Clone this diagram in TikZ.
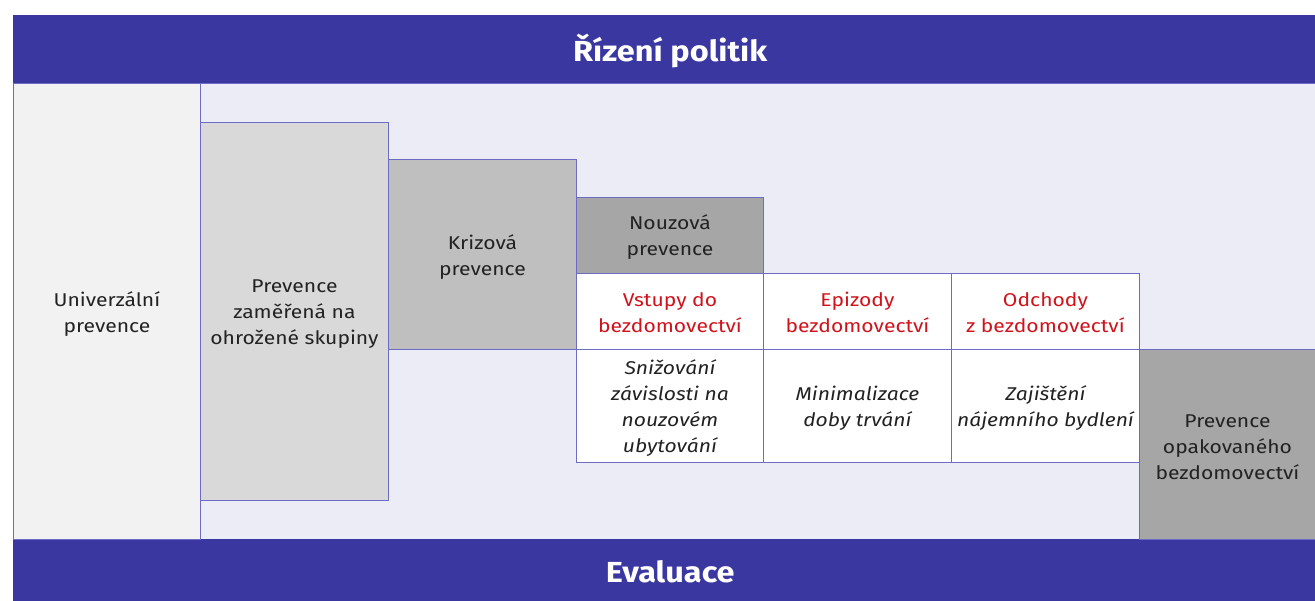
\documentclass[tikz,border=0pt]{standalone}
\usepackage{fontspec}
\setmainfont{Fira Sans}[FakeStretch=1.14]
\newfontfamily\headfont{Fira Sans}[FakeStretch=1.12]
\definecolor{band}{HTML}{3A37A0}
\definecolor{bgl}{HTML}{ECECF6}
\definecolor{edge}{HTML}{6D6BC4}
\definecolor{g1}{HTML}{F2F2F2}
\definecolor{g2}{HTML}{D9D9D9}
\definecolor{g3}{HTML}{BFBFBF}
\definecolor{g4}{HTML}{A6A6A6}
\definecolor{redt}{HTML}{D0121B}
\definecolor{txt}{HTML}{222222}
\begin{document}
\begin{tikzpicture}[x=1pt,y=-1pt,
  bandbox/.style={fill=band, draw=none, anchor=north west, inner sep=0pt},
  headtext/.style={text=white, inner sep=0pt, font=\headfont\fontsize{29}{32}\selectfont\bfseries},
  cell/.style={draw=edge, line width=0.9pt, anchor=north west, inner sep=0pt},
  celltext/.style={inner sep=0pt, align=center, text=txt, font=\fontsize{18.5}{26}\selectfont},
  redtext/.style={celltext, text=redt},
  ittext/.style={celltext, font=\fontsize{18.5}{26}\selectfont\itshape}
]
\useasboundingbox (0,0) rectangle (1315,601);
\node[draw=edge, line width=0.9pt, fill=bgl, anchor=north west, inner sep=0pt,
  minimum width=1302pt, minimum height=456pt] (bg) at (13,83) {};
\node[bandbox, minimum width=1302pt, minimum height=68pt] (top) at (13,15) {};
\node[bandbox, minimum width=1302pt, minimum height=62pt] (bottom) at (13,539) {};
\node[cell, fill=g1, minimum width=187pt, minimum height=456pt] (univ) at (13,83) {};
\node[cell, fill=g2, minimum width=188pt, minimum height=378pt] (target) at (200,122) {};
\node[cell, fill=g3, minimum width=188pt, minimum height=190pt] (crisis) at (388,159) {};
\node[cell, fill=g4, minimum width=187pt, minimum height=76pt] (emerg) at (576,197) {};
\node[cell, fill=white, minimum width=187pt, minimum height=76pt] (entry) at (576,273) {};
\node[cell, fill=white, minimum width=188pt, minimum height=76pt] (episode) at (763,273) {};
\node[cell, fill=white, minimum width=188pt, minimum height=76pt] (exit) at (951,273) {};
\node[cell, fill=white, minimum width=187pt, minimum height=113pt] (reduce) at (576,349) {};
\node[cell, fill=white, minimum width=188pt, minimum height=113pt] (minim) at (763,349) {};
\node[cell, fill=white, minimum width=188pt, minimum height=113pt] (rent) at (951,349) {};
\node[cell, fill=g4, minimum width=176pt, minimum height=190pt] (repeat) at (1139,349) {};
% texts
\node[headtext] (topt) at ([xshift=6pt,yshift=-1.5pt]top.center) {Řízení politik};
\node[headtext] (bott) at ([xshift=6pt,yshift=-2pt]bottom.center) {Evaluace};
\node[celltext] (univt) at ([yshift=-2.5pt]univ.center) {Univerzální\\prevence};
\node[celltext] (targett) at ([yshift=-2.5pt]target.center) {Prevence\\zaměřená na\\ohrožené skupiny};
\node[celltext] (crisist) at ([yshift=-2.5pt]crisis.center) {Krizová\\prevence};
\node[celltext] (emergt) at ([yshift=-1.5pt]emerg.center) {Nouzová\\prevence};
\node[redtext] (entryt) at ([yshift=-1pt]entry.center) {Vstupy do\\bezdomovectví};
\node[redtext] (episodet) at ([yshift=-1pt]episode.center) {Epizody\\bezdomovectví};
\node[redtext] (exitt) at ([yshift=-1pt]exit.center) {Odchody\\z bezdomovectví};
\node[ittext] (reducet) at ([yshift=-2.5pt]reduce.center) {Snižování\\závislosti na\\nouzovém\\ubytování};
\node[ittext] (minimt) at ([yshift=-2.5pt]minim.center) {Minimalizace\\doby trvání};
\node[ittext] (rentt) at ([yshift=-2.5pt]rent.center) {Zajištění\\nájemního bydlení};
\node[celltext] (repeatt) at ([yshift=-2.5pt]repeat.center) {Prevence\\opakovaného\\bezdomovectví};
\end{tikzpicture}
\end{document}
